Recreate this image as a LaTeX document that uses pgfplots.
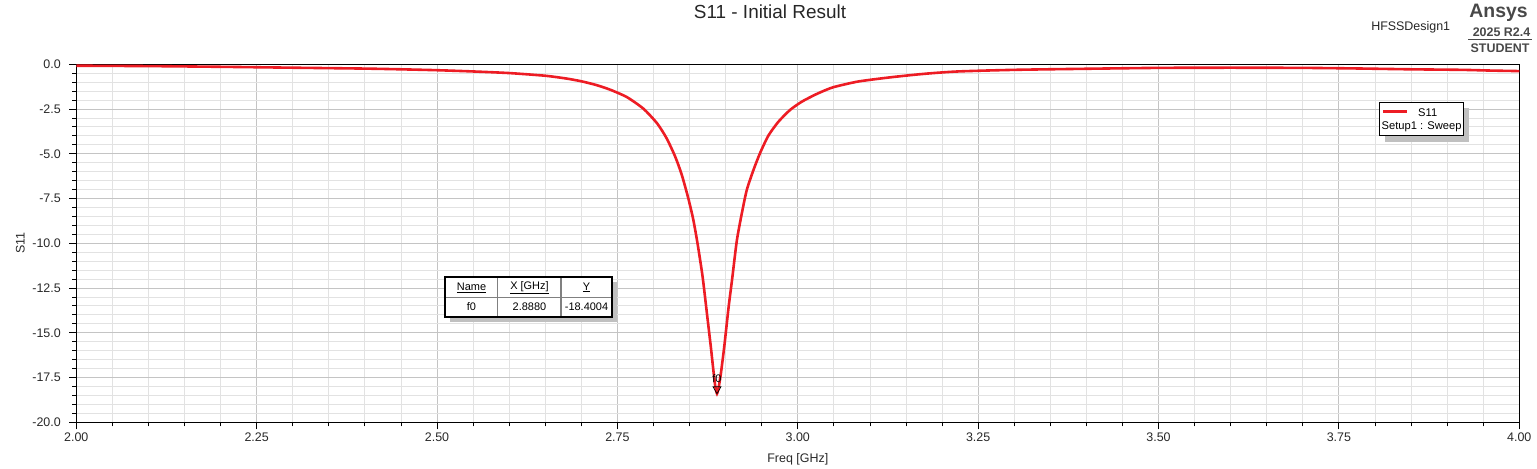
\documentclass[border=0pt]{standalone}
\usepackage{fontspec}
\setmainfont{Liberation Sans}
\usepackage{pgfplots}
\pgfplotsset{compat=1.18}

\definecolor{curvered}{RGB}{237,28,36}
\definecolor{gridmajor}{RGB}{196,196,196}
\definecolor{gridminor}{RGB}{226,226,226}
\definecolor{labelgray}{RGB}{40,40,40}
\definecolor{ansysgray}{RGB}{72,72,72}
\definecolor{shadowgray}{RGB}{192,192,192}
\definecolor{cellgray}{RGB}{128,128,128}

\newcommand{\fs}[1]{\fontsize{#1}{#1}\selectfont}

\begin{document}
\begin{tikzpicture}
\useasboundingbox (0,0) rectangle (1537bp,469bp);

\begin{axis}[
    at={(76.3bp,46.7bp)}, anchor=south west,
    scale only axis, width=1443bp, height=358bp,
    xmin=2, xmax=4, ymin=-20, ymax=0,
    xtick={2,2.25,2.5,2.75,3,3.25,3.5,3.75,4},
    ytick={-20,-17.5,-15,-12.5,-10,-7.5,-5,-2.5,0},
    minor x tick num=4, minor y tick num=4,
    grid=both,
    major grid style={draw=gridmajor, line width=0.9bp},
    minor grid style={draw=gridminor, line width=0.9bp},
    tick align=outside, tick pos=left,
    major tick length=7bp, minor tick length=4bp,
    every tick/.style={black, line width=0.9bp},
    axis line style={black, line width=1bp},
    /pgf/number format/assume math mode=true,
    tick label style={font=\fs{12.5}, text=labelgray},
    xticklabel style={/pgf/number format/.cd, fixed, fixed zerofill, precision=2},
    yticklabel style={xshift=-5bp, /pgf/number format/.cd, fixed, fixed zerofill, precision=1},
    xlabel={Freq [GHz]}, ylabel={S11},
    label style={font=\fs{12.5}, text=labelgray},
    x label style={at={(axis description cs:0.5,-0.103)}, anchor=center},
    y label style={at={(axis description cs:-0.0388,0.5)}, anchor=center},
    clip=true,
]
\addplot[curvered, line width=2.6bp, smooth, tension=0.4] coordinates {
(2.000,-0.08) (2.100,-0.10) (2.200,-0.14) (2.300,-0.19) (2.400,-0.24)
(2.450,-0.28) (2.500,-0.33) (2.550,-0.40) (2.600,-0.49) (2.650,-0.64)
(2.680,-0.80) (2.700,-0.95) (2.720,-1.15) (2.740,-1.42) (2.763,-1.83)
(2.786,-2.48) (2.805,-3.30) (2.818,-4.12) (2.830,-5.15) (2.839,-6.15)
(2.848,-7.45) (2.855,-8.65) (2.861,-10.0) (2.868,-11.85) (2.874,-13.9)
(2.8795,-15.8) (2.883,-17.1) (2.8855,-17.95) (2.888,-18.40) (2.8905,-18.0)
(2.8933,-17.3) (2.898,-15.8) (2.904,-13.6) (2.909,-12.0) (2.9155,-9.85)
(2.9224,-8.33) (2.9293,-7.02) (2.9385,-5.91) (2.9478,-4.95) (2.9593,-3.98)
(2.9731,-3.21) (2.9893,-2.55) (3.0055,-2.09) (3.024,-1.70) (3.038,-1.45)
(3.051,-1.26) (3.084,-0.96) (3.130,-0.72) (3.176,-0.53) (3.222,-0.40)
(3.300,-0.31) (3.400,-0.25) (3.500,-0.20) (3.600,-0.19) (3.700,-0.20)
(3.770,-0.23) (3.850,-0.28) (3.920,-0.31) (3.960,-0.35) (4.000,-0.38)
};
% marker f0
\addplot[only marks, mark=triangle, mark size=4.6bp,
    mark options={draw=black, fill=white, line width=0.7bp, yshift=4.6bp, rotate=180}]
    coordinates {(2.888,-18.4004)}
    node[pos=0, above=11bp, font=\fs{11}, inner sep=0pt] {f0};
\end{axis}

% title and header texts
\node[font=\fs{19}, text=black!85] at (770bp,457bp) {S11 - Initial Result};
\node[font=\fs{12.5}, text=black!85] at (1410.7bp,442bp) {HFSSDesign1};
\node[font=\bfseries\fs{19.5}, text=ansysgray] at (1498.5bp,456bp) {Ansys};
\node[font=\bfseries\fs{12.5}, text=ansysgray] at (1501.5bp,437bp) {2025 R2.4};
\draw[ansysgray, line width=1.3bp] (1468bp,429.7bp) -- (1532bp,429.7bp);
\node[font=\bfseries\fs{12.5}, text=ansysgray] at (1500bp,420.5bp) {STUDENT};

% legend
\fill[shadowgray] (1385bp,327bp) rectangle (1469bp,361bp);
\draw[black, fill=white, line width=1bp] (1379bp,333bp) rectangle (1463bp,366.7bp);
\draw[curvered, line width=2.6bp] (1383bp,357.3bp) -- (1407bp,357.3bp);
\node[font=\fs{11.2}, anchor=west, inner sep=0pt] at (1418bp,356.5bp) {S11};
\node[font=\fs{11.2}, anchor=west, inner sep=0pt] at (1381.5bp,342bp) {Setup1 : Sweep};

% marker table
\fill[shadowgray] (450bp,147bp) rectangle (617bp,187bp);
\fill[white] (445bp,152bp) rectangle (612bp,192bp);
\draw[cellgray, line width=1.3bp] (445bp,171.7bp) -- (612bp,171.7bp);
\draw[cellgray, line width=1.3bp] (497.7bp,152bp) -- (497.7bp,192bp);
\draw[cellgray, line width=1.3bp] (561bp,152bp) -- (561bp,192bp);
\draw[black, line width=2bp] (445bp,152bp) rectangle (612bp,192bp);
\node[font=\fs{11}] at (471.5bp,181.5bp) {\underline{Name}};
\node[font=\fs{11}] at (529.5bp,181.5bp) {\underline{X [GHz]}};
\node[font=\fs{11}] at (586.5bp,181.5bp) {\underline{Y}};
\node[font=\fs{11}] at (471.5bp,162bp) {f0};
\node[font=\fs{11}] at (529.5bp,162bp) {2.8880};
\node[font=\fs{11}] at (586.5bp,162bp) {-18.4004};
\end{tikzpicture}
\end{document}
